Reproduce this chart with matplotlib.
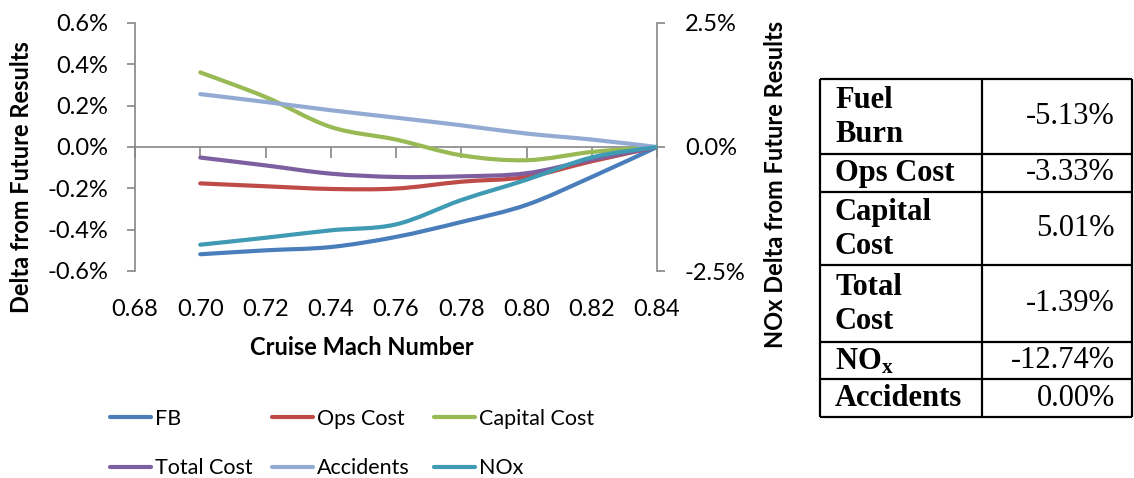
import numpy as np
import matplotlib

matplotlib.use("Agg")
import matplotlib.pyplot as plt
from matplotlib.path import Path
from matplotlib.patches import PathPatch
from matplotlib.lines import Line2D
from matplotlib.ticker import FuncFormatter

# --- data ---
mach = [0.70, 0.72, 0.74, 0.76, 0.78, 0.80, 0.82, 0.84]
fb = [-0.519, -0.500, -0.484, -0.435, -0.363, -0.280, -0.145, 0.0]
ops_cost = [-0.176, -0.190, -0.203, -0.201, -0.168, -0.145, -0.069, 0.0]
capital_cost = [0.361, 0.242, 0.097, 0.036, -0.040, -0.064, -0.024, 0.0]
total_cost = [-0.051, -0.089, -0.129, -0.145, -0.142, -0.127, -0.061, 0.0]
accidents = [0.256, 0.218, 0.178, 0.142, 0.105, 0.065, 0.036, 0.0]
nox = [-1.97, -1.83, -1.68, -1.56, -1.07, -0.66, -0.21, 0.0]  # right axis

left_ticks = [-0.6, -0.4, -0.2, 0.0, 0.2, 0.4, 0.6]
right_ticks = [-2.5, 0.0, 2.5]
x_ticks = [0.68, 0.70, 0.72, 0.74, 0.76, 0.78, 0.80, 0.82, 0.84]

table_labels = ["Fuel\nBurn", "Ops Cost", "Capital\nCost", "Total\nCost",
                r"$\mathbf{NO_x}$", "Accidents"]
table_values = ["-5.13%", "-3.33%", "5.01%", "-1.39%", "-12.74%", "0.00%"]

GRAY = "#868686"
colors = {
    "FB": "#4A7EBB",
    "Ops Cost": "#BE4B48",
    "Capital Cost": "#98B954",
    "Total Cost": "#7D5FA0",
    "Accidents": "#93ABD3",
    "NOx": "#3F9AB3",
}

plt.rcParams["font.family"] = ["Lato", "DejaVu Sans"]
plt.rcParams["mathtext.fontset"] = "custom"
plt.rcParams["mathtext.bf"] = "Liberation Serif:bold"
plt.rcParams["mathtext.rm"] = "Liberation Serif"


def smooth_path(x, y):
    # Excel-style smoothed line: cubic Bezier segments through the data points
    x = np.asarray(x, float)
    y = np.asarray(y, float)
    px = np.concatenate([[x[0]], x, [x[-1]]])
    py = np.concatenate([[y[0]], y, [y[-1]]])
    verts = [(x[0], y[0])]
    codes = [Path.MOVETO]
    for i in range(1, len(px) - 2):
        c1 = (px[i] + (px[i + 1] - px[i - 1]) / 6, py[i] + (py[i + 1] - py[i - 1]) / 6)
        c2 = (px[i + 1] - (px[i + 2] - px[i]) / 6, py[i + 1] - (py[i + 2] - py[i]) / 6)
        verts += [c1, c2, (px[i + 1], py[i + 1])]
        codes += [Path.CURVE4] * 3
    return Path(verts, codes)


def pct(fmt):
    return FuncFormatter(lambda v, _: fmt.format(v + 0.0))


fig = plt.figure(figsize=(11.34, 4.78), dpi=100)
ax = fig.add_axes([135 / 1134, 1 - 271 / 478, 522 / 1134, 248 / 478])
ax2 = ax.twinx()

LW = 3.0
for name, vals in [("FB", fb), ("Ops Cost", ops_cost), ("Capital Cost", capital_cost),
                   ("Total Cost", total_cost), ("Accidents", accidents)]:
    ax.add_patch(PathPatch(smooth_path(mach, vals), fill=False, lw=LW,
                           edgecolor=colors[name], capstyle="round", zorder=3))
ax2.add_patch(PathPatch(smooth_path(mach, nox), fill=False, lw=LW,
                        edgecolor=colors["NOx"], capstyle="round", zorder=3))

ax.set_xlim(0.68, 0.84)
ax.set_ylim(-0.6, 0.6)
ax2.set_ylim(-2.5, 2.5)

ax.set_xticks(x_ticks)
ax.xaxis.set_major_formatter(FuncFormatter(lambda v, _: f"{v:.2f}"))
ax.set_yticks(left_ticks)
ax.yaxis.set_major_formatter(pct("{:.1f}%"))
ax2.set_yticks(right_ticks)
ax2.yaxis.set_major_formatter(pct("{:.1f}%"))

for s in ["top", "right", "bottom"]:
    ax.spines[s].set_visible(False)
for s in ["top", "left", "bottom"]:
    ax2.spines[s].set_visible(False)
ax.spines["left"].set_color(GRAY)
ax2.spines["right"].set_color(GRAY)
ax.spines["left"].set_linewidth(1.2)
ax2.spines["right"].set_linewidth(1.2)

TICK_FS = 17
ax.tick_params(axis="x", length=0, pad=20, labelsize=TICK_FS)
ax.tick_params(axis="y", direction="out", length=6, width=1.2, color=GRAY, pad=13, labelsize=TICK_FS)
ax2.tick_params(axis="y", direction="out", length=6, width=1.2, color=GRAY, pad=14, labelsize=TICK_FS)

# horizontal axis line at zero with downward ticks
sec = ax.secondary_xaxis(0.5)
sec.set_alignment("bottom")
sec.set_xticks(x_ticks)
sec.tick_params(axis="x", direction="out", length=8, width=1.2, color=GRAY,
                labelbottom=False, labeltop=False)
sec.spines["bottom"].set_color(GRAY)
sec.spines["bottom"].set_linewidth(1.2)

LABEL_FS = 17
ax.set_xlabel("Cruise Mach Number", fontsize=LABEL_FS, fontweight="bold")
ax.xaxis.set_label_coords((362 - 135) / 522, (271 - 336) / 248)
ax.set_ylabel("Delta from Future Results", fontsize=LABEL_FS, fontweight="bold")
ax.yaxis.set_label_coords((33 - 135) / 522, (271 - 177) / 248)
ax2.set_ylabel("NOx Delta from Future Results", fontsize=LABEL_FS, fontweight="bold")
ax2.yaxis.set_label_coords((764 - 135) / 522, (271 - 184) / 248)
ax2.yaxis.label.set_rotation(90)

# legend: three columns of two entries
legend_cols = [(110, ["FB", "Total Cost"]), (272, ["Ops Cost", "Accidents"]),
               (434, ["Capital Cost", "NOx"])]
for xpx, names in legend_cols:
    handles = [Line2D([], [], color=colors[n], lw=LW, solid_capstyle="round") for n in names]
    fig.legend(handles, names, loc="upper left", bbox_to_anchor=(xpx / 1134, 1 - 409 / 478),
               frameon=False, fontsize=15.5, handlelength=1.9, handletextpad=0.2,
               borderpad=0, borderaxespad=0, labelspacing=1.35)

# table on the right
tab = fig.add_axes([0, 0, 1, 1])
tab.set_xlim(0, 1134)
tab.set_ylim(478, 0)
tab.axis("off")
row_edges = [79, 154, 192, 265, 342, 379, 417]
col_edges = [820, 982, 1132]
tab.hlines(row_edges, col_edges[0], col_edges[-1], colors="black", lw=1.6)
tab.vlines(col_edges, row_edges[0], row_edges[-1], colors="black", lw=1.6)
for i, (lab, val) in enumerate(zip(table_labels, table_values)):
    yc = (row_edges[i] + row_edges[i + 1]) / 2
    tab.text(835, yc + 1, lab, ha="left", va="center", family="Liberation Serif",
             fontweight="bold", fontsize=22, linespacing=1.25)
    tab.text(1115, yc, val, ha="right", va="center", family="Liberation Serif",
             fontsize=22)

fig.savefig("out.png", dpi=100)
